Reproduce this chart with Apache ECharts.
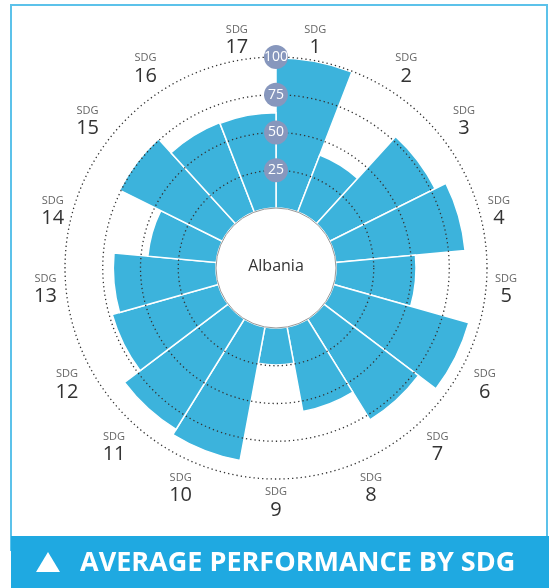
<!DOCTYPE html>
<html><head><meta charset="utf-8">
<script src="https://cdn.jsdelivr.net/npm/echarts@6/dist/echarts.min.js"></script>
<style>html,body{margin:0;padding:0;background:#fff}#c{width:549px;height:588px}</style>
</head><body><div id="c"></div>
<script>
const sdgLabels = ['1','2','3','4','5','6','7','8','9','10','11','12','13','14','15','16','17'];
const scores = [99.5, 40.5, 78, 86, 53, 93, 78.5, 57, 24.5, 90, 86, 73, 68, 45.5, 76, 63.5, 63];
const ringTicks = [25, 50, 75, 100];
const countryName = 'Albania';
const titleText = 'AVERAGE PERFORMANCE BY SDG';

const CX = 276, CY = 268, R0 = 60, R1 = 211;
const FONT = 'Open Sans';

const chart = echarts.init(document.getElementById('c'), null, {renderer: 'canvas'});
chart.setOption({
  animation: false,
  backgroundColor: '#fff',
  polar: [
    {center: [CX, CY], radius: [R0, R1]},
    {center: [CX, CY], radius: [R0, R1]}
  ],
  angleAxis: [
    {
      polarIndex: 0, type: 'category', data: sdgLabels, startAngle: 90, clockwise: true,
      axisLine: {show: false}, axisTick: {show: false}, splitLine: {show: false},
      axisLabel: {
        margin: 2,
        padding: [4, 7, 0, 7],
        align: 'center',
        verticalAlign: 'middle',
        formatter: v => '{a|SDG}\n{b|' + v + '}',
        rich: {
          a: {fontSize: 11, color: '#666', align: 'center', lineHeight: 14, fontFamily: FONT},
          b: {fontSize: 20, color: '#333', align: 'center', lineHeight: 22, fontFamily: FONT}
        }
      }
    },
    {polarIndex: 1, type: 'value', min: 0, max: 360, startAngle: 90, clockwise: true, show: false}
  ],
  radiusAxis: [
    {polarIndex: 0, type: 'value', min: 0, max: 100, show: false},
    {
      polarIndex: 1, type: 'value', min: 0, max: 100, interval: 25, z: 5,
      axisLine: {show: false}, axisTick: {show: false}, axisLabel: {show: false},
      splitLine: {show: true, lineStyle: {color: ['rgba(0,0,0,0)', '#333', '#333', '#333', '#333'], type: [1.3, 3], width: 1.3}}
    }
  ],
  series: [
    {
      type: 'bar', coordinateSystem: 'polar', polarIndex: 0, data: scores,
      barCategoryGap: '0%', z: 2, silent: true,
      itemStyle: {color: '#3cb3dc', borderColor: '#fff', borderWidth: 1.5}
    },
    {
      type: 'scatter', coordinateSystem: 'polar', polarIndex: 1, z: 8, silent: true,
      data: ringTicks.map(t => [t, 0]),
      symbol: 'circle', symbolSize: 24,
      itemStyle: {color: '#8797bd', opacity: 1},
      label: {show: true, position: 'inside', formatter: p => String(p.value[0]), color: '#fff', fontSize: 14, fontFamily: FONT}
    }
  ],
  graphic: [
    {type: 'rect', shape: {x: 11, y: 5, width: 536, height: 545}, style: {fill: 'none', stroke: '#5cc2ea', lineWidth: 2}, z: 1},
    {type: 'circle', shape: {cx: CX, cy: CY, r: R0}, style: {fill: '#fff', stroke: '#999', lineWidth: 1}, z: 20},
    {type: 'text', x: CX, y: CY - 2, style: {text: countryName, fill: '#333', fontSize: 16, fontFamily: FONT, align: 'center', verticalAlign: 'middle'}, z: 21},
    {type: 'rect', shape: {x: 11, y: 536, width: 538, height: 52}, style: {fill: '#1fa9e1'}, z: 30},
    {type: 'polygon', shape: {points: [[36, 572], [60, 572], [48, 552]]}, style: {fill: '#fff'}, z: 31},
    {type: 'text', x: 80, y: 563, style: {text: titleText, fill: '#fff', fontSize: 27, fontWeight: 'bold', fontFamily: FONT, align: 'left', verticalAlign: 'middle'}, z: 31}
  ]
});
</script></body></html>
